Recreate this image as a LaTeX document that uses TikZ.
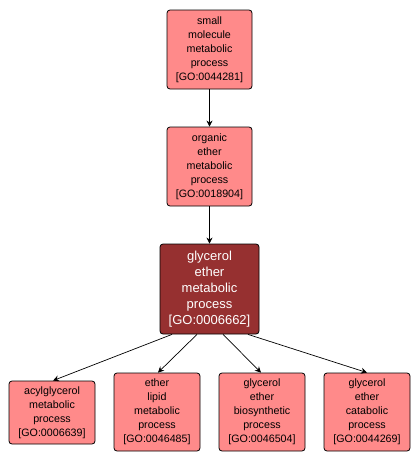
\documentclass[tikz,border=0pt]{standalone}
\usepackage{fontspec}
\setmainfont{Liberation Sans}
\usetikzlibrary{arrows.meta}
\definecolor{lightgo}{HTML}{FF8A8A}
\definecolor{darkgo}{HTML}{963030}
\begin{document}
\begin{tikzpicture}[x=1pt,y=-1pt,
  gobox/.style={draw=black,line width=0.8pt,rounded corners=3pt,fill=lightgo,align=center,inner sep=0pt,
    font=\fontsize{10.7}{13.9}\selectfont},
  gosel/.style={gobox,fill=darkgo,text=white,font=\fontsize{13}{16}\selectfont},
  goedge/.style={line width=0.7pt,-{Stealth[length=6pt,width=6pt]}}]
\useasboundingbox (0,0) rectangle (420,463);
\node[gobox,minimum width=85pt,minimum height=79pt] (top) at (209.5,49.5)
  {small\\molecule\\metabolic\\process\\{[GO:0044281]}};
\node[gobox,minimum width=85pt,minimum height=79pt] (org) at (209.5,166.5)
  {organic\\ether\\metabolic\\process\\{[GO:0018904]}};
\node[gosel,minimum width=99pt,minimum height=90pt] (gly) at (209.5,289)
  {glycerol\\ether\\metabolic\\process\\{[GO:0006662]}};
\node[gobox,minimum width=86pt,minimum height=63pt] (b1) at (52,412.5)
  {acylglycerol\\metabolic\\process\\{[GO:0006639]}};
\node[gobox,minimum width=86pt,minimum height=78pt] (b2) at (157,412)
  {ether\\lipid\\metabolic\\process\\{[GO:0046485]}};
\node[gobox,minimum width=86pt,minimum height=78pt] (b3) at (262,412)
  {glycerol\\ether\\biosynthetic\\process\\{[GO:0046504]}};
\node[gobox,minimum width=86pt,minimum height=78pt] (b4) at (367,412)
  {glycerol\\ether\\catabolic\\process\\{[GO:0044269]}};
\draw[goedge] (top.south) -- (org.north);
\draw[goedge] (org.south) -- (gly.north);
\draw[goedge] ([xshift=-37.5pt]gly.south) -- ([xshift=1pt]b1.north);
\draw[goedge] ([xshift=-12.5pt]gly.south) -- ([xshift=1pt]b2.north);
\draw[goedge] ([xshift=13.5pt]gly.south) -- ([xshift=-1pt]b3.north);
\draw[goedge] ([xshift=38.5pt]gly.south) -- (b4.north);
\end{tikzpicture}
\end{document}
